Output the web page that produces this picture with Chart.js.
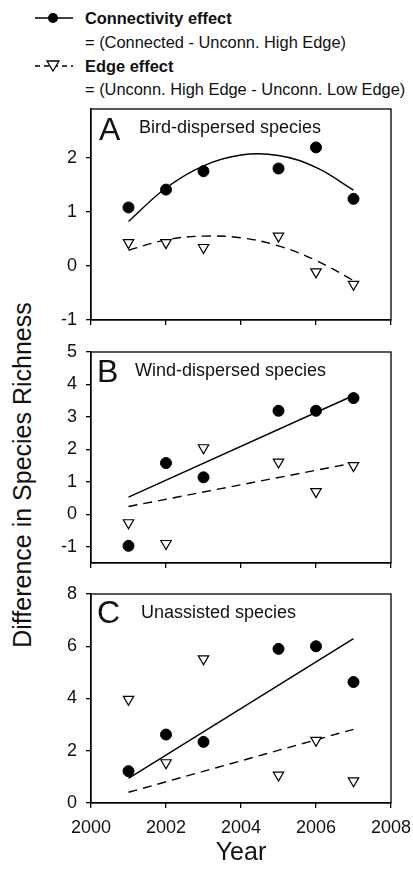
<!DOCTYPE html>
<html><head><meta charset="utf-8">
<script src="https://cdn.jsdelivr.net/npm/chart.js@4/dist/chart.umd.min.js"></script>
<style>
html,body{margin:0;padding:0;background:#fff;}
body{width:413px;height:880px;position:relative;overflow:hidden;font-family:"Liberation Sans",Arial,sans-serif;color:#111;}
.panel{position:absolute;left:0;width:413px;}
.legrow{position:absolute;left:85px;font-size:16.4px;white-space:nowrap;line-height:20px;}
.legsym{position:absolute;left:30px;}
#ytitle{position:absolute;left:22px;top:475px;transform:translate(-50%,-50%) rotate(-90deg);font-size:25px;white-space:nowrap;}
</style></head>
<body>
<svg class="legsym" style="top:8px" width="50" height="20"><line x1="5" y1="10" x2="43" y2="10" stroke="#000" stroke-width="1.5"/><circle cx="23" cy="10" r="5" fill="#000"/></svg>
<svg class="legsym" style="top:56px" width="50" height="20"><line x1="5" y1="10" x2="43" y2="10" stroke="#000" stroke-width="1.5" stroke-dasharray="5,4"/><polygon points="17,5 29,5 23,15" fill="#fff" stroke="#000" stroke-width="1.3"/></svg>
<div class="legrow" id="leg0" style="top:8px;font-weight:bold"></div>
<div class="legrow" id="leg1" style="top:32px"></div>
<div class="legrow" id="leg2" style="top:56px;font-weight:bold"></div>
<div class="legrow" id="leg3" style="top:79px"></div>
<div id="ytitle"></div>
<div class="panel" style="top:90px;height:250px"><canvas id="cA"></canvas></div>
<div class="panel" style="top:335px;height:245px"><canvas id="cB"></canvas></div>
<div class="panel" style="top:580px;height:300px"><canvas id="cC"></canvas></div>
<script>
// ---- data ----
const years = [2001, 2002, 2003, 2005, 2006, 2007];
const curveYears = [2001, 2002, 2003, 2004, 2005, 2006, 2007];
const lineYears = [2001, 2007];

const birdConn = [1.08, 1.41, 1.75, 1.80, 2.19, 1.24];
const birdEdge = [0.43, 0.43, 0.34, 0.55, -0.11, -0.34];
const birdConnFit = [0.82, 1.44, 1.85, 2.05, 2.04, 1.82, 1.40];
const birdEdgeFit = [0.29, 0.48, 0.55, 0.52, 0.37, 0.10, -0.27];

const windConn = [-0.97, 1.58, 1.14, 3.19, 3.19, 3.58];
const windEdge = [-0.26, -0.90, 2.05, 1.61, 0.70, 1.50];
const windConnFit = [0.53, 3.66];
const windEdgeFit = [0.24, 1.58];

const unasConn = [1.22, 2.62, 2.34, 5.90, 6.00, 4.63];
const unasEdge = [3.97, 1.54, 5.52, 1.07, 2.40, 0.85];
const unasConnFit = [0.94, 6.29];
const unasEdgeFit = [0.41, 2.82];

const xTicks = [2000, 2002, 2004, 2006, 2008];
const yTicksA = [-1, 0, 1, 2];
const yTicksB = [-1, 0, 1, 2, 3, 4, 5];
const yTicksC = [0, 2, 4, 6, 8];

const seriesNames = ['Connectivity effect', 'Edge effect'];
const seriesNotes = ['= (Connected - Unconn. High Edge)', '= (Unconn. High Edge - Unconn. Low Edge)'];
const panelLetters = ['A', 'B', 'C'];
const panelTitles = ['Bird-dispersed species', 'Wind-dispersed species', 'Unassisted species'];
const xTitle = 'Year';
const yTitle = 'Difference in Species Richness';

// ---- text ----
document.getElementById('leg0').textContent = seriesNames[0];
document.getElementById('leg1').textContent = seriesNotes[0];
document.getElementById('leg2').textContent = seriesNames[1];
document.getElementById('leg3').textContent = seriesNotes[1];
document.getElementById('ytitle').textContent = yTitle;

const FONT = '"Liberation Sans", Arial, sans-serif';
Chart.defaults.font.family = FONT;
Chart.defaults.color = '#111';

const framePlugin = {
  id: 'frame',
  afterDraw(chart, args, o) {
    const {ctx, chartArea: a} = chart;
    ctx.save();
    ctx.strokeStyle = '#000';
    ctx.lineWidth = 1.3;
    ctx.strokeRect(a.left, a.top, a.right - a.left, a.bottom - a.top);
    ctx.fillStyle = '#111';
    ctx.textBaseline = 'alphabetic';
    ctx.font = '32px ' + FONT;
    ctx.fillText(o.letter, a.left + o.lx, a.top + o.ly);
    ctx.font = '18px ' + FONT;
    ctx.fillText(o.title, a.left + o.tx, a.top + o.ty);
    ctx.restore();
  }
};

function pts(xs, ys) { return xs.map((x, i) => ({x: x, y: ys[i]})); }

function makePanel(id, idx, conn, edge, fitX, connFit, edgeFit, yMin, yMax, yTicks, opt) {
  const datasets = [
    {data: pts(years, conn), pointStyle: 'circle', pointRadius: 5.5, pointBackgroundColor: '#000', pointBorderColor: '#000', showLine: false},
    {data: pts(years, edge), pointStyle: 'triangle', rotation: 180, pointRadius: 6, pointBackgroundColor: '#fff', pointBorderColor: '#000', pointBorderWidth: 1.2, showLine: false},
    {data: pts(fitX, connFit), showLine: true, borderColor: '#000', borderWidth: 1.4, pointRadius: 0, tension: opt.curve ? 0.4 : 0, fill: false},
    {data: pts(fitX, edgeFit), showLine: true, borderColor: '#000', borderWidth: 1.4, borderDash: [9, 6], pointRadius: 0, tension: opt.curve ? 0.4 : 0, fill: false}
  ];
  return new Chart(document.getElementById(id), {
    type: 'scatter',
    data: {datasets},
    plugins: [framePlugin],
    options: {
      responsive: true, maintainAspectRatio: false, animation: false,
      layout: {padding: {top: opt.padTop, left: 0, right: 22, bottom: 0}},
      plugins: {legend: {display: false}, tooltip: {enabled: false},
        frame: {letter: panelLetters[idx], title: panelTitles[idx], lx: opt.lx, ly: opt.ly, tx: opt.tx, ty: opt.ty}},
      scales: {
        x: {
          type: 'linear', min: 2000, max: 2008,
          afterBuildTicks: s => { s.ticks = xTicks.map(v => ({value: v})); },
          afterFit: s => { s.height = opt.xh; s.paddingLeft = 0; s.paddingRight = 0; },
          grid: {display: true, drawOnChartArea: false, drawTicks: true, tickLength: 5, color: '#000', lineWidth: 1.3},
          border: {display: true, color: '#000', width: 1.3},
          ticks: {display: opt.showX, font: {size: 18}, padding: 9, maxRotation: 0, color: '#111', callback: v => String(v)},
          title: {display: opt.showX, text: xTitle, font: {size: 25}, padding: {top: 0, bottom: 12}, color: '#111'}
        },
        y: {
          type: 'linear', min: yMin, max: yMax,
          afterBuildTicks: s => { s.ticks = yTicks.map(v => ({value: v})); },
          afterFit: s => { s.width = 91; s.paddingTop = 0; s.paddingBottom = 0; },
          grid: {display: true, drawOnChartArea: false, drawTicks: true, tickLength: 5, color: '#000', lineWidth: 1.3},
          border: {display: true, color: '#000', width: 1.3},
          ticks: {font: {size: 18}, padding: 9, color: '#111', callback: v => String(v)}
        }
      }
    }
  });
}

makePanel('cA', 0, birdConn, birdEdge, curveYears, birdConnFit, birdEdgeFit, -1, 2.9, yTicksA,
  {padTop: 19, xh: 20, showX: false, curve: true, lx: 8, ly: 31, tx: 48, ty: 24});
makePanel('cB', 1, windConn, windEdge, lineYears, windConnFit, windEdgeFit, -1.5, 5, yTicksB,
  {padTop: 17, xh: 17, showX: false, curve: false, lx: 6, ly: 30, tx: 44, ty: 24});
makePanel('cC', 2, unasConn, unasEdge, lineYears, unasConnFit, unasEdgeFit, 0, 8, yTicksC,
  {padTop: 14, xh: 77, showX: true, curve: false, lx: 6, ly: 29, tx: 50, ty: 24});
</script>
</body></html>
